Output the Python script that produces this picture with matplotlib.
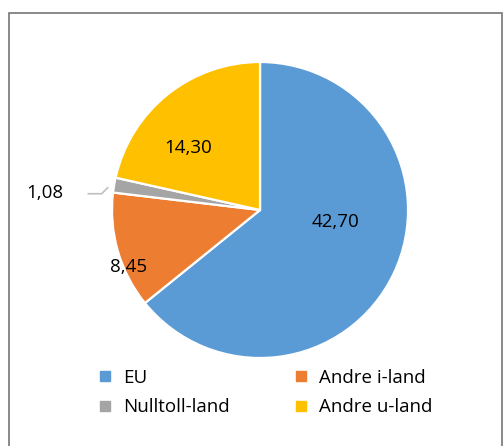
import matplotlib.pyplot as plt
from matplotlib.lines import Line2D
from matplotlib.patches import Rectangle

# Data
labels = ['EU', 'Andre i-land', 'Nulltoll-land', 'Andre u-land']
values = [42.70, 8.45, 1.08, 14.30]
colors = ['#5B9BD5', '#ED7D31', '#A5A5A5', '#FFC000']
value_text = ['42,70', '8,45', '1,08', '14,30']
# label positions (pie units), chosen to look like Excel's "best fit"
label_pos = [(0.51, -0.08), (-0.89, -0.385), (-1.453, 0.115), (-0.486, 0.419)]

plt.rcParams['font.family'] = ['Open Sans', 'DejaVu Sans']

fig = plt.figure(figsize=(5.03, 4.46), dpi=100)
ax = fig.add_axes([0.2227, 0.1973, 0.5885, 0.6637])

wedges, _ = ax.pie(values, colors=colors, startangle=90, counterclock=False,
                   wedgeprops=dict(edgecolor='white', linewidth=1.6))
ax.set_xlim(-1, 1)
ax.set_ylim(-1, 1)
ax.set_aspect('equal')

for (x, y), t in zip(label_pos, value_text):
    ax.text(x, y, t, ha='center', va='center', fontsize=13.5, color='black')

# leader line for the small slice
ax.plot([-1.16, -1.07, -1.03], [0.11, 0.11, 0.15], color='#BFBFBF', lw=1.2,
        clip_on=False)

# legend filled row by row like Excel
order = [0, 2, 1, 3]
handles = [Line2D([], [], marker='s', linestyle='', color=colors[i], markersize=6.5)
           for i in order]
fig.legend(handles, [labels[i] for i in order], ncol=2, loc='center',
           bbox_to_anchor=(0.525, 0.12), frameon=False, fontsize=13.5,
           handletextpad=0.45, columnspacing=3.3, labelspacing=0.6,
           handlelength=1.0)

# chart border
fig.patches.append(Rectangle((9 / 503, -0.01), 493 / 503, 1 - 13 / 446 + 0.01,
                             transform=fig.transFigure, fill=False,
                             edgecolor='#767676', lw=1.2))

fig.savefig('out.png', dpi=100)
